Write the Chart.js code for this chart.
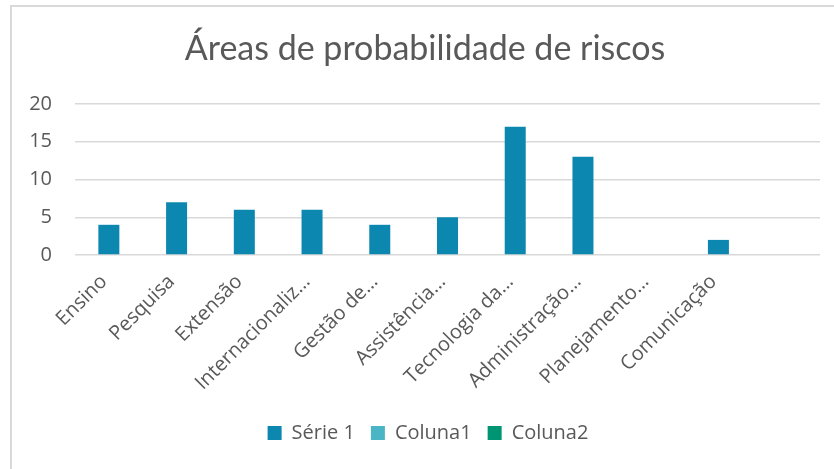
<!DOCTYPE html>
<html><head><meta charset="utf-8">
<script src="https://cdn.jsdelivr.net/npm/chart.js@4.4.1/dist/chart.umd.min.js"></script>
<style>html,body{margin:0;padding:0;background:#fff}#wrap{width:834px;height:469px;position:relative}</style>
</head><body><div id="wrap"><canvas id="c" width="834" height="469"></canvas></div>
<script>
const chartTitle = 'Áreas de probabilidade de riscos';
const categories = ['Ensino','Pesquisa','Extensão','Internacionaliz…','Gestão de…','Assistência…','Tecnologia da…','Administração…','Planejamento…','Comunicação',''];
const serie1 = [4, 7, 6, 6, 4, 5, 17, 13, 0, 2, null];
const coluna1 = [null, null, null, null, null, null, null, null, null, null, null];
const coluna2 = [null, null, null, null, null, null, null, null, null, null, null];
const seriesNames = ['Série 1', 'Coluna1', 'Coluna2'];
const yMin = 0, yMax = 20, yStep = 5;

const textColor = '#595959';
const frame = {
  id: 'frame',
  afterLayout(chart) {
    chart.legend.left += 18;
    chart.legend.right += 18;
    chart.titleBlock.left += 15;
    chart.titleBlock.right += 15;
  },
  beforeDraw(chart) {
    const ctx = chart.ctx;
    ctx.save();
    ctx.fillStyle = '#ffffff';
    ctx.fillRect(0, 0, chart.width, chart.height);
    ctx.fillStyle = '#d9d9d9';
    ctx.fillRect(10, 5, chart.width - 10, 2);
    ctx.fillRect(10, 5, 2, chart.height - 5);
    ctx.restore();
  }
};

new Chart(document.getElementById('c'), {
  type: 'bar',
  data: {
    labels: categories,
    datasets: [
      { label: seriesNames[0], data: serie1, backgroundColor: '#0b87b0', borderWidth: 0 },
      { label: seriesNames[1], data: coluna1, backgroundColor: '#4ab5c5', borderWidth: 0 },
      { label: seriesNames[2], data: coluna2, backgroundColor: '#009572', borderWidth: 0 }
    ]
  },
  options: {
    responsive: false,
    devicePixelRatio: 1,
    animation: false,
    datasets: { bar: { grouped: false, barThickness: 21, inflateAmount: 0 } },
    layout: { padding: { top: 0, left: 0, right: 14, bottom: 16 } },
    plugins: {
      title: {
        display: true, text: chartTitle, color: textColor,
        font: { family: 'Lato', size: 34, weight: '400' },
        padding: { top: 29, bottom: 34.2 }
      },
      legend: {
        display: true, position: 'bottom',
        labels: {
          boxWidth: 14, boxHeight: 14, padding: 16, color: textColor,
          font: { family: 'Open Sans', size: 20 }
        }
      },
      tooltip: { enabled: false }
    },
    scales: {
      x: {
        grid: { display: false },
        border: { display: false },
        ticks: {
          color: textColor, font: { family: 'Open Sans', size: 20 },
          minRotation: 45, maxRotation: 45, autoSkip: false,
          padding: 7, labelOffset: -5
        },
        afterFit(s) { s.height = 152; }
      },
      y: {
        min: yMin, max: yMax,
        grid: { color: '#d9d9d9', lineWidth: 1.5, drawTicks: false },
        border: { display: false },
        ticks: {
          stepSize: yStep, color: textColor,
          font: { family: 'Open Sans', size: 20 }, padding: 23
        },
        afterFit(s) { s.width = 75; }
      }
    }
  },
  plugins: [frame]
});
</script>
</body></html>
